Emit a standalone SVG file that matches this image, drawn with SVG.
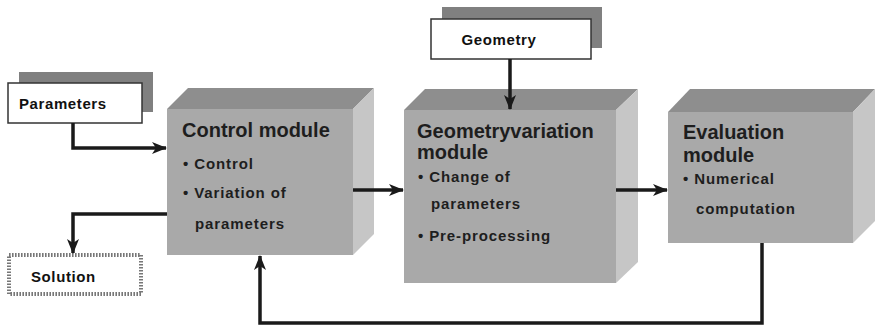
<svg xmlns="http://www.w3.org/2000/svg" width="875" height="328" viewBox="0 0 875 328">
  <style>
    .front { fill: #a9a9a9; }
    .top { fill: #8e8e8e; }
    .side { fill: #c6c6c6; }
    .shadow { fill: #808080; }
    .card { fill: #ffffff; stroke: #333333; stroke-width: 1.5; }
    .title { font-family: "Liberation Sans", Arial, sans-serif; font-weight: bold; font-size: 20px; fill: #1e1e1e; }
    .item { font-family: "Liberation Sans", Arial, sans-serif; font-weight: bold; font-size: 15px; letter-spacing: 0.9px; fill: #1e1e1e; }
    .label { font-family: "Liberation Sans", Arial, sans-serif; font-weight: bold; font-size: 15px; letter-spacing: 0.6px; fill: #111111; }
    .wire { fill: none; stroke: #1a1a1a; stroke-width: 3.5; }
  </style>
  <defs>
    <marker id="arrow" viewBox="0 0 15 12" refX="14" refY="6" markerWidth="15" markerHeight="12" markerUnits="userSpaceOnUse" orient="auto">
      <path d="M0,0 L15,6 L0,12 L4,6 Z" fill="#1a1a1a"/>
    </marker>
  </defs>

  <rect width="875" height="328" fill="#ffffff"/>

  <!-- input: parameters -->
  <g id="parameters">
    <rect class="shadow" x="19" y="72" width="134" height="40"/>
    <rect class="card" x="8" y="83" width="134" height="40"/>
    <text class="label" x="19" y="109">Parameters</text>
  </g>

  <!-- input: geometry -->
  <g id="geometry">
    <rect class="shadow" x="442" y="7" width="160" height="41"/>
    <rect class="card" x="431" y="19" width="160" height="40"/>
    <text class="label" x="499" y="45" text-anchor="middle">Geometry</text>
  </g>

  <!-- output: solution (dotted frame) -->
  <g id="solution">
    <rect x="9" y="255" width="132" height="39" fill="#ffffff" stroke="#777777" stroke-width="4" stroke-dasharray="1.6 1.4"/>
    <text class="label" x="31" y="282">Solution</text>
  </g>

  <!-- control module block -->
  <g id="control-module">
    <polygon class="top" points="167,109 188,88 374,88 353,109"/>
    <polygon class="side" points="353,109 374,88 374,234 353,255"/>
    <rect class="front" x="167" y="109" width="186" height="146"/>
    <text class="title" x="182" y="137">Control module</text>
    <text class="item" x="183" y="169">• Control</text>
    <text class="item" x="183" y="198">• Variation of</text>
    <text class="item" x="195" y="229">parameters</text>
  </g>

  <!-- geometry variation module block -->
  <g id="geometry-variation-module">
    <polygon class="top" points="404,110 425,89 638,89 616,110"/>
    <polygon class="side" points="616,110 638,89 638,262 616,283"/>
    <rect class="front" x="404" y="110" width="212" height="173"/>
    <text class="title" x="417" y="138">Geometryvariation</text>
    <text class="title" x="417" y="159">module</text>
    <text class="item" x="418" y="182">• Change of</text>
    <text class="item" x="431" y="209">parameters</text>
    <text class="item" x="418" y="241">• Pre-processing</text>
  </g>

  <!-- evaluation module block -->
  <g id="evaluation-module">
    <polygon class="top" points="668,112 690,89 875,89 853,112"/>
    <polygon class="side" points="853,112 875,89 875,221 853,243"/>
    <rect class="front" x="668" y="112" width="185" height="131"/>
    <text class="title" x="683" y="139">Evaluation</text>
    <text class="title" x="683" y="162">module</text>
    <text class="item" x="683" y="184">• Numerical</text>
    <text class="item" x="696" y="214">computation</text>
  </g>

  <!-- connectors -->
  <g id="connectors">
    <path class="wire" d="M73,123 V148 H166" marker-end="url(#arrow)"/>
    <path class="wire" d="M510,59 V109" marker-end="url(#arrow)"/>
    <path class="wire" d="M353,190 H403" marker-end="url(#arrow)"/>
    <path class="wire" d="M616,190 H667" marker-end="url(#arrow)"/>
    <path class="wire" d="M167,214 H73 V253" marker-end="url(#arrow)"/>
    <path class="wire" d="M762,243 V323 H260 V256" marker-end="url(#arrow)"/>
  </g>
</svg>
